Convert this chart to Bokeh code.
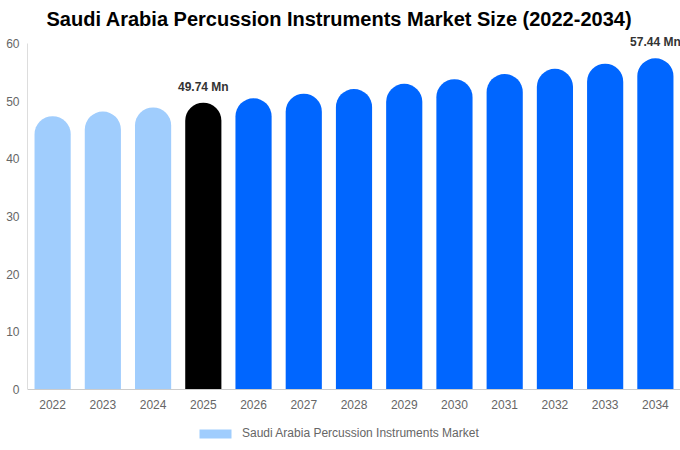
from bokeh.plotting import figure
from bokeh.models import ColumnDataSource, Range1d, FixedTicker, Legend, LegendItem, Title
from bokeh.transform import factor_cmap
from bokeh.core.properties import value
from bokeh.embed import file_html
from bokeh.resources import INLINE

years = ["2022", "2023", "2024", "2025", "2026", "2027", "2028",
         "2029", "2030", "2031", "2032", "2033", "2034"]
market_size = [47.4, 48.2, 48.9, 49.74, 50.5, 51.3, 52.1, 53.0, 53.8, 54.7, 55.6, 56.5, 57.44]
segment = ["history"] * 3 + ["base"] + ["forecast"] * 9
labelled_years = ["2025", "2034"]
y_ticks = [0, 10, 20, 30, 40, 50, 60]
series_name = "Saudi Arabia Percussion Instruments Market"
title_text = "Saudi Arabia Percussion Instruments Market Size (2022-2034)"

FONT = "Liberation Sans"

src = ColumnDataSource(dict(year=years, v=market_size, seg=segment))
lab_vals = [market_size[years.index(y)] for y in labelled_years]
lab_src = ColumnDataSource(dict(year=labelled_years, v=lab_vals,
                                txt=["%.2f Mn" % v for v in lab_vals]))

p = figure(x_range=years, y_range=Range1d(-10.58, 61.56),
           frame_width=653, frame_height=416,
           output_backend="svg", toolbar_location=None,
           min_border_left=27, min_border_right=0, min_border_top=34, min_border_bottom=0)
p.outline_line_color = None
p.background_fill_color = "white"
p.border_fill_color = "white"
p.xgrid.grid_line_color = None
p.ygrid.grid_line_color = None

p.title = Title(text=title_text, text_font=FONT, text_font_size="20px",
                text_font_style="bold", text_color="#000000", align="left", offset=19)

bars = p.vbar(x="year", top="v", width=0.72, source=src,
              fill_color=factor_cmap("seg", palette=["#a0cdfd", "#000000", "#0066ff"],
                                     factors=["history", "base", "forecast"]),
              line_color=None, border_radius=(18, 18, 0, 0))

p.text(x="year", y="v", text="txt", source=lab_src, text_align="center",
       text_baseline="bottom", y_offset=-9, text_font=value(FONT),
       text_font_size="12px", text_font_style="bold", text_color="#333333")

for ax in (p.xaxis, p.yaxis):
    ax.major_tick_line_color = None
    ax.minor_tick_line_color = None
    ax.major_tick_out = 0
    ax.major_tick_in = 0
    ax.major_label_text_font = FONT
    ax.major_label_text_font_size = "12px"
    ax.major_label_text_color = "#666666"
p.yaxis.ticker = FixedTicker(ticks=y_ticks)
p.yaxis.bounds = (0, 60)
p.yaxis.axis_line_color = "#dddddd"
p.yaxis.major_label_standoff = 8
p.xaxis.axis_line_color = "#cccccc"
p.xaxis.major_label_standoff = 11
p.xaxis.fixed_location = 0

legend = Legend(items=[LegendItem(label=series_name, renderers=[bars], index=0)],
                orientation="horizontal", location=(168, 10),
                glyph_width=40, glyph_height=11, label_height=12, padding=5, margin=0,
                label_text_font=FONT, label_text_font_size="12px",
                label_text_color="#666666", border_line_color=None,
                background_fill_alpha=0, label_standoff=7)
p.add_layout(legend, "center")

open("out.html", "w").write(file_html(p, INLINE))
